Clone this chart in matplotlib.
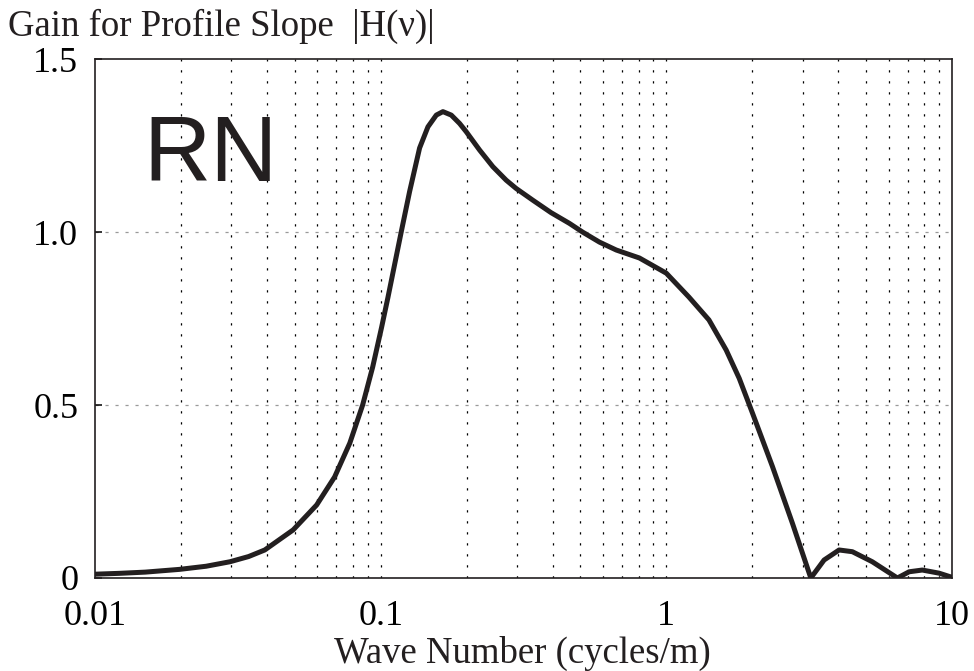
import matplotlib
matplotlib.use("Agg")
import matplotlib.pyplot as plt
from matplotlib.ticker import FixedLocator, LogLocator, NullFormatter

# gain magnitude read along the wave-number axis (cycles/m)
wave_number = [0.01, 0.0122, 0.015, 0.0198, 0.0245, 0.0297, 0.0345, 0.0393,
               0.0494, 0.0597, 0.069, 0.078, 0.0865, 0.0938, 0.1008, 0.106,
               0.1181, 0.1263, 0.1369, 0.1464, 0.1566, 0.1652, 0.1767, 0.1889,
               0.1993, 0.222, 0.247, 0.275, 0.298, 0.341, 0.395, 0.458, 0.509,
               0.583, 0.668, 0.805, 1.0, 1.2, 1.41, 1.62, 1.8, 2.004, 2.353,
               2.764, 3.205, 3.567, 4.026, 4.48, 5.26, 6.44, 7.08, 7.87, 9.01,
               10.0]
gain = [0.011, 0.0135, 0.017, 0.025, 0.034, 0.047, 0.062, 0.081,
        0.139, 0.211, 0.292, 0.39, 0.50, 0.61, 0.725, 0.81,
        1.001, 1.117, 1.243, 1.304, 1.338, 1.348, 1.338, 1.314,
        1.290, 1.237, 1.189, 1.150, 1.126, 1.092, 1.056, 1.025, 1.0,
        0.971, 0.948, 0.925, 0.881, 0.812, 0.746, 0.659, 0.577, 0.476, 0.322,
        0.158, 0.0, 0.052, 0.081, 0.076, 0.047, 0.0, 0.018, 0.023, 0.014,
        0.002]

x_ticks = [0.01, 0.1, 1, 10]
x_ticklabels = ["0.01", "0.1", "1", "10"]
y_ticks = [0, 0.5, 1.0, 1.5]
y_ticklabels = ["0", "0.5", "1.0", "1.5"]

serif = ["Liberation Serif", "DejaVu Serif"]
ink = "#231f20"

fig = plt.figure(figsize=(9.74, 6.71), dpi=100)
ax = fig.add_axes([0.0975, 0.1386, 0.8799, 0.7734])

ax.set_xscale("log")
ax.set_xlim(0.01, 10)
ax.set_ylim(0, 1.5)

# vertical grid on every decade subdivision
for dec in (0.01, 0.1, 1):
    for k in range(2, 10):
        ax.axvline(dec * k, color="black", lw=0.9, dashes=(1.8, 7), zorder=1)
for dec in (0.1, 1):
    ax.axvline(dec, color="black", lw=0.9, dashes=(1.8, 7), zorder=1)
for yv in (0.5, 1.0):
    ax.axhline(yv, color="#999999", lw=0.9, dashes=(2.5, 5.5), zorder=1)

ax.plot(wave_number, gain, color=ink, lw=3.6, solid_joinstyle="round",
        solid_capstyle="round", zorder=3)

ax.xaxis.set_major_locator(FixedLocator(x_ticks))
ax.set_xticklabels(x_ticklabels)
ax.xaxis.set_minor_locator(LogLocator(subs=range(2, 10)))
ax.xaxis.set_minor_formatter(NullFormatter())
ax.set_yticks(y_ticks)
ax.set_yticklabels(y_ticklabels)
ax.tick_params(axis="x", which="both", length=0, pad=16)
ax.tick_params(axis="y", direction="in", length=5, width=1.1, pad=12)
for lab in ax.get_xticklabels() + ax.get_yticklabels():
    lab.set_family(serif)
    lab.set_fontsize(26)

for sp in ax.spines.values():
    sp.set_linewidth(1.2)
    sp.set_color(ink)

ax.text(0.0148, 1.148, "RN", fontsize=67, family=["Liberation Sans", "DejaVu Sans"],
        color=ink, va="baseline", ha="left", zorder=4)

fig.text(0.008, 0.947, "Gain for Profile Slope  |H(\u03bd)|", family=serif,
         fontsize=26.5, ha="left", va="baseline", color=ink)
fig.text(0.536, 0.012, "Wave Number (cycles/m)", family=serif, fontsize=26.5,
         ha="center", va="baseline", color=ink)

fig.savefig("out.png", dpi=100)
